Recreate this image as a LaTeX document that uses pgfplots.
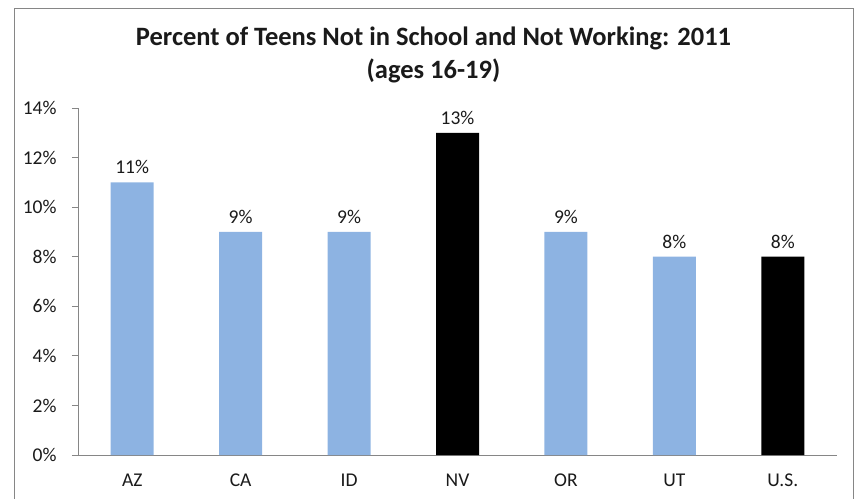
\documentclass[border=0pt]{standalone}
\usepackage{fontspec}
\setmainfont{Carlito}
\usepackage{pgfplots}
\pgfplotsset{compat=1.18}
\definecolor{barblue}{HTML}{8DB3E2}
\definecolor{axisgray}{HTML}{868686}
\definecolor{txt}{HTML}{1A1A1A}
\begin{document}
\begin{tikzpicture}
\useasboundingbox (0bp,0bp) rectangle (858bp,-499bp);
\draw[axisgray, line width=1bp] (14bp,-510bp) -- (14bp,-8bp) -- (853bp,-8bp) -- (853bp,-510bp);
\node[anchor=base, font=\bfseries\fontsize{26.5bp}{30bp}\selectfont, text=txt] at (433.5bp,-45bp) {Percent of Teens Not in School and Not Working: 2011};
\node[anchor=base, font=\bfseries\fontsize{26.5bp}{30bp}\selectfont, text=txt] at (433.5bp,-78bp) {(ages 16-19)};
\begin{axis}[
  at={(78bp,-455bp)}, anchor=south west,
  scale only axis,
  width=759bp, height=347bp,
  xmin=-0.5, xmax=6.5,
  ymin=0, ymax=14,
  axis x line*=bottom, axis y line*=left,
  axis line style={axisgray, line width=0.8bp, -},
  ybar, bar width=43bp, bar shift=0pt,
  xtick={0,...,6},
  xticklabels={AZ,CA,ID,NV,OR,UT,U.S.},
  major x tick style={draw=none},
  extra x ticks={-0.5,0.5,1.5,2.5,3.5,4.5,5.5,6.5},
  extra x tick labels={},
  extra x tick style={tick style={axisgray, line width=0.8bp}, major tick length=6bp},
  ytick={0,2,...,14},
  yticklabels={0\%,2\%,4\%,6\%,8\%,10\%,12\%,14\%},
  y tick style={axisgray, line width=0.8bp},
  major tick length=6bp,
  tick align=outside,
  /pgf/number format/assume math mode=true,
  ticklabel style={font=\fontsize{19.5bp}{23bp}\selectfont, text=txt},
  yticklabel style={xshift=-12bp},
  xticklabel style={yshift=-9bp},
  nodes near coords={\pgfmathprintnumber{\pgfplotspointmeta}\%},
  every node near coord/.append style={font=\fontsize{19.5bp}{23bp}\selectfont, text=txt, yshift=5bp},
  clip=false,
]
\addplot[fill=barblue, draw=none] coordinates {(0,11) (1,9) (2,9) (4,9) (5,8)};
\addplot[fill=black, draw=none] coordinates {(3,13) (6,8)};
\end{axis}
\end{tikzpicture}
\end{document}
